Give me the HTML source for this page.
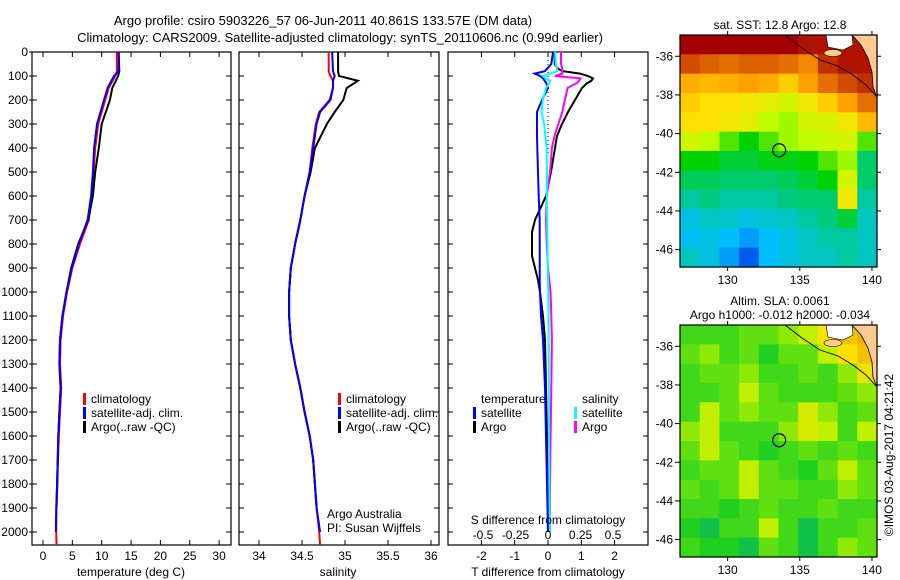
<!DOCTYPE html>
<html><head><meta charset="utf-8"><style>
body{margin:0;background:#fff}
svg{display:block;font-family:"Liberation Sans",sans-serif}
</style></head><body>
<svg id="c" width="900" height="580" xmlns="http://www.w3.org/2000/svg"></svg>
<script>
// ---------- data ----------
const depthT = [0,80,100,150,200,300,400,500,600,700,800,900,1000,1100,1200,1300,1400,1500,1600,1700,1800,1900,2000,2054];
const tempClim = [12.55,12.6,12.3,11.2,10.6,9.4,8.9,8.6,8.3,7.8,6.3,5.0,4.1,3.4,3.0,2.9,3.1,2.9,2.7,2.55,2.45,2.3,2.25,2.3];
const tempSat  = [12.9,12.9,12.1,11.0,10.4,9.2,8.7,8.5,8.2,7.6,6.1,4.9,4.0,3.3,2.9,2.8,3.0,2.8,2.6,2.5,2.4,2.25,2.2,2.2];
const tempArgo = [12.9,13.0,12.8,11.8,11.4,10.0,9.5,8.9,8.5,7.7,6.0,4.8,4.0,3.3,2.9,2.8,3.0,2.8,2.6,2.5,2.4,2.3,2.2,2.2];
const depthS = [0,80,100,120,150,200,250,300,400,500,600,700,800,900,1000,1100,1200,1300,1400,1500,1600,1700,1800,1900,2000,2054];
const salClim = [34.81,34.81,34.83,34.86,34.86,34.82,34.70,34.66,34.62,34.59,34.53,34.48,34.42,34.37,34.35,34.35,34.37,34.42,34.48,34.53,34.59,34.63,34.65,34.67,34.70,34.71];
const salSat  = [34.85,34.86,34.88,34.86,34.86,34.83,34.71,34.67,34.63,34.59,34.53,34.48,34.42,34.37,34.35,34.35,34.37,34.42,34.48,34.53,34.59,34.63,34.65,34.67,34.71,34.71];
const salArgo = [34.92,34.92,34.93,35.15,35.02,34.98,34.88,34.79,34.65,34.60,34.53,34.48,34.42,34.37,34.35,34.35,34.37,34.42,34.48,34.53,34.59,34.63,34.65,34.67,34.70,34.70];
const depthD = [0,50,70,80,90,100,110,120,130,150,200,250,300,350,400,500,600,700,750,800,850,900,950,1000,1100,1200,1400,1600,1800,2000];
const tDiffSat  = [0.15,0.1,-0.03,-0.1,-0.4,-0.24,-0.15,-0.1,-0.05,0,-0.18,-0.33,-0.33,-0.33,-0.32,-0.3,-0.28,-0.25,-0.25,-0.25,-0.25,-0.25,-0.25,-0.24,-0.21,-0.15,-0.09,-0.06,-0.03,0];
const tDiffArgo = [0.2,0.2,0.3,0.45,0.96,1.2,1.35,1.3,1.17,1.02,0.81,0.6,0.42,0.27,0.21,0.09,-0.06,-0.39,-0.48,-0.48,-0.48,-0.39,-0.3,-0.24,-0.15,-0.09,-0.06,-0.03,-0.01,0];
const sDiffSat  = [0.054,0.06,0.07,0.07,0.02,-0.04,-0.02,0.015,0.01,-0.015,-0.04,-0.05,-0.03,-0.02,-0.01,-0.008,-0.01,-0.006,-0.005,-0.004,-0.003,-0.002,0,0.002,0.004,0.005,0.006,0.008,0.01,0.015];
const sDiffArgo = [0.1,0.1,0.11,0.11,0.11,0.054,0.25,0.24,0.22,0.15,0.13,0.11,0.08,0.05,0.03,0.015,-0.01,-0.015,-0.012,-0.01,-0.005,0,0.01,0.02,0.025,0.03,0.025,0.02,0.015,0.015];
const tempTicks = [0,5,10,15,20,25,30];
const salTicks = [34,34.5,35,35.5,36];
const tdTicks = [-2,-1,0,1,2];
const sdTicks = [-0.5,-0.25,0,0.25,0.5];
const depthTicks = [0,100,200,300,400,500,600,700,800,900,1000,1100,1200,1300,1400,1500,1600,1700,1800,1900,2000];
const sstGrid = [
[1,1,1,1,1,1,0.98,0.98,0.98,0.98],
[0.92,0.9,0.88,0.9,0.9,0.88,0.85,0.95,0.98,0.98],
[0.8,0.78,0.8,0.82,0.8,0.75,0.82,0.88,0.92,0.95],
[0.75,0.72,0.72,0.7,0.68,0.65,0.7,0.75,0.82,0.88],
[0.72,0.72,0.7,0.68,0.62,0.6,0.65,0.66,0.7,0.78],
[0.65,0.62,0.55,0.5,0.55,0.6,0.62,0.64,0.65,0.55],
[0.5,0.5,0.45,0.45,0.48,0.48,0.5,0.55,0.6,0.4],
[0.42,0.42,0.4,0.4,0.4,0.42,0.45,0.5,0.65,0.4],
[0.35,0.38,0.35,0.35,0.35,0.38,0.4,0.4,0.7,0.35],
[0.25,0.3,0.28,0.25,0.28,0.3,0.35,0.38,0.45,0.3],
[0.22,0.25,0.2,0.15,0.2,0.25,0.3,0.35,0.35,0.3],
[0.3,0.25,0.15,0.05,0.2,0.25,0.3,0.3,0.35,0.3]];
const slaGrid = [
[0.45,0.45,0.45,0.5,0.5,0.55,0.6,0.75,0.85,0.9],
[0.5,0.55,0.45,0.5,0.4,0.5,0.5,0.6,0.75,0.85],
[0.45,0.5,0.5,0.55,0.45,0.45,0.5,0.45,0.55,0.7],
[0.45,0.45,0.5,0.6,0.5,0.45,0.45,0.45,0.5,0.55],
[0.45,0.6,0.5,0.55,0.5,0.5,0.65,0.55,0.45,0.5],
[0.55,0.6,0.45,0.45,0.45,0.55,0.65,0.6,0.45,0.6],
[0.5,0.6,0.5,0.45,0.4,0.45,0.5,0.45,0.5,0.45],
[0.45,0.5,0.5,0.6,0.5,0.45,0.4,0.5,0.6,0.5],
[0.5,0.45,0.5,0.6,0.5,0.5,0.45,0.45,0.55,0.5],
[0.45,0.45,0.4,0.45,0.5,0.45,0.45,0.5,0.45,0.45],
[0.4,0.35,0.45,0.45,0.6,0.45,0.35,0.45,0.45,0.5],
[0.45,0.4,0.4,0.35,0.5,0.45,0.35,0.45,0.55,0.5]];
const lonTicks = [130,135,140];
const latTicks = [-36,-38,-40,-42,-44,-46];
const argoLon = 133.57, argoLat = -40.861;

// ---------- helpers ----------
const svg = document.getElementById('c');
const NS = 'http://www.w3.org/2000/svg';
function mk(tag, attrs, parent){const e=document.createElementNS(NS,tag);for(const k in attrs)e.setAttribute(k,attrs[k]);(parent||svg).appendChild(e);return e;}
function txt(x,y,s,anchor,size,parent){const t=mk('text',{x:x,y:y,'font-size':size||12,'text-anchor':anchor||'start',fill:'#000'},parent);t.textContent=s;return t;}
const TOP=52, BOT=545;
const yD = d => TOP + d*0.24;

function panel(name,x0,x1,fx,ticks,fmt){
  const g=mk('g',{});
  
  
  mk('rect',{x:x0,y:TOP,width:x1-x0,height:BOT-TOP,fill:'none',stroke:'#000','stroke-width':1.2},g);
  ticks.forEach(v=>{const x=fx(v);
    mk('line',{x1:x,x2:x,y1:BOT,y2:BOT-5,stroke:'#000'},g);
    mk('line',{x1:x,x2:x,y1:TOP,y2:TOP+5,stroke:'#000'},g);
    const t=txt(x,560,fmt?fmt(v):String(v),'middle',12,g);
    
    
  });
  depthTicks.forEach(d=>{const y=yD(d);
    mk('line',{x1:x0,x2:x0+5,y1:y,y2:y,stroke:'#000'},g);
    mk('line',{x1:x1,x2:x1-5,y1:y,y2:y,stroke:'#000'},g);
  });
  return g;
}
function line(g,xs,ds,fx,color,name,w){
  const pts=xs.map((v,i)=>fx(v).toFixed(1)+','+yD(ds[i]).toFixed(1)).join(' ');
  const p=mk('polyline',{points:pts,fill:'none',stroke:color,'stroke-width':w||2},g);
  
  
}
function legendItem(g,x,y,color,label){
  mk('rect',{x:x,y:y-10,width:3,height:12,fill:color},g);
  const t=txt(x+8,y,label,'start',12,g);
  
  
}

// titles
let t=txt(323,25,'Argo profile: csiro 5903226_57 06-Jun-2011 40.861S 133.57E (DM data)','middle',13);

t=txt(340,42,'Climatology: CARS2009. Satellite-adjusted climatology: synTS_20110606.nc (0.99d earlier)','middle',13);


// depth labels
depthTicks.forEach(d=>{const l=txt(28,yD(d)+4,String(d),'end',12);
  
  mk('line',{x1:29,x2:32,y1:yD(d),y2:yD(d),stroke:'#000'});});

// panel 1 temperature
const fT = v => 43 + v*5.87;
const g1=panel('temperature-panel',32,231,fT,tempTicks);
line(g1,tempClim,depthT,fT,'#ff0000','temp-climatology-line');
line(g1,tempArgo,depthT.slice(0,22),fT,'#000','temp-argo-line');
line(g1,tempSat,depthT.slice(0,23),fT,'#0000ff','temp-satellite-line');
legendItem(g1,83,403,'#ff0000','climatology');
legendItem(g1,83,417,'#0000ff','satellite-adj. clim.');
legendItem(g1,83,431,'#000','Argo(..raw -QC)');
t=txt(131,576,'temperature (deg C)','middle',12);

// panel 2 salinity
const fS = v => 259 + (v-34)*86;
const g2=panel('salinity-panel',239,439,fS,salTicks);
line(g2,salClim,depthS,fS,'#ff0000','sal-climatology-line');
line(g2,salArgo,depthS.slice(0,24),fS,'#000','sal-argo-line');
line(g2,salSat,depthS.slice(0,25),fS,'#0000ff','sal-satellite-line');
legendItem(g2,338,403,'#ff0000','climatology');
legendItem(g2,338,417,'#0000ff','satellite-adj. clim.');
legendItem(g2,338,431,'#000','Argo(..raw -QC)');
txt(327,518,'Argo Australia','start',12,g2);
txt(327,532,'PI: Susan Wijffels','start',12,g2);
t=txt(338,576,'salinity','middle',12);

// panel 3 differences
const fTD = v => 548 + v*33.3;
const fSD = v => 548 + v*130;
const g3=panel('difference-panel',448,648,fTD,tdTicks);
mk('line',{x1:548,x2:548,y1:TOP,y2:yD(420),stroke:'#000','stroke-dasharray':'1,3'},g3);
line(g3,tDiffArgo,depthD,fTD,'#000','tdiff-argo-line');
line(g3,sDiffArgo,depthD,fSD,'#ff00ff','sdiff-argo-line');
line(g3,tDiffSat,depthD,fTD,'#0000ff','tdiff-satellite-line');
line(g3,sDiffSat,depthD,fSD,'#00ffff','sdiff-satellite-line');
txt(481,403,'temperature','start',12,g3);
legendItem(g3,473,417,'#0000ff','satellite');
legendItem(g3,473,431,'#000','Argo');
txt(582,403,'salinity','start',12,g3);
legendItem(g3,574,417,'#00ffff','satellite');
legendItem(g3,574,431,'#ff00ff','Argo');
txt(548,524,'S difference from climatology','middle',12,g3);
sdTicks.forEach(v=>{const l=txt(fSD(v),539,String(v),'middle',12,g3);});
t=txt(548,576,'T difference from climatology','middle',12);

// ---------- maps ----------
const MX0=680, MX1=877, LON0=126.7, LON1=140.35;
const fLon = lon => MX0 + (lon-LON0)*(MX1-MX0)/(LON1-LON0);
function lerpC(stops,v){v=Math.max(0,Math.min(1,v));for(let i=1;i<stops.length;i++){if(v<=stops[i][0]){const a=stops[i-1],b=stops[i];const f=(v-a[0])/(b[0]-a[0]);return 'rgb('+[1,2,3].map(k=>Math.round(a[k]+(b[k]-a[k])*f)).join(',')+')';}}const l=stops[stops.length-1];return 'rgb('+l[1]+','+l[2]+','+l[3]+')';}
const sstStops=[[0,0,60,230],[0.2,0,190,255],[0.35,0,200,160],[0.5,0,210,0],[0.62,190,255,0],[0.72,255,225,0],[0.82,255,160,0],[0.9,220,95,0],[1,165,0,0]];
const slaStops=[[0.3,0,176,112],[0.4,32,208,32],[0.5,96,224,16],[0.6,192,240,0],[0.75,255,224,0],[0.9,240,176,0],[1,240,150,0]];
function map(name,top,grid,stops,titleLines){
  const bot=top+232;
  const fLat = lat => top + (-34.9-lat)*(bot-top)/12;
  const g=mk('g',{});
  
  
  const rows=grid.length, cols=grid[0].length, cw=(MX1-MX0)/cols, ch=(bot-top)/rows;
  grid.forEach((row,r)=>row.forEach((v,c)=>{
    const cell=mk('rect',{x:(MX0+c*cw).toFixed(1),y:(top+r*ch).toFixed(1),width:(cw+0.6).toFixed(1),height:(ch+0.6).toFixed(1),fill:lerpC(stops,v)},g);
    
    
  }));
  // land
  mk('polygon',{points:`852,${top} ${MX1},${top} ${MX1},${top+62} 873,${top+52} 872,${top+37} 868,${top+23} 861,${top+10}`,fill:'#ffc990',stroke:'#000','stroke-width':0.8},g);
  mk('polygon',{points:`826,${top} 852,${top} 853,${top+10} 843,${top+15} 828,${top+12}`,fill:'#fff',stroke:'#000','stroke-width':0.6},g);
  mk('ellipse',{cx:833,cy:top+18,rx:9,ry:3.5,fill:'#ffc990',stroke:'#000','stroke-width':0.6},g);
  mk('polyline',{points:`785,${top} 802,${top+13} 820,${top+25} 838,${top+31} 853,${top+40} 866,${top+50} ${MX1},${top+62}`,fill:'none',stroke:'#000','stroke-width':0.9},g);
  mk('rect',{x:MX0,y:top,width:MX1-MX0,height:bot-top,fill:'none',stroke:'#000','stroke-width':1.2},g);
  lonTicks.forEach(l=>{const x=fLon(l);mk('line',{x1:x,x2:x,y1:top,y2:top-4,stroke:'#000'},g);mk('line',{x1:x,x2:x,y1:bot,y2:bot+4,stroke:'#000'},g);
    const lb=txt(x,bot+17,String(l),'middle',12,g);});
  latTicks.forEach(l=>{const y=fLat(l);mk('line',{x1:MX0,x2:MX0-5,y1:y,y2:y,stroke:'#000'},g);mk('line',{x1:MX1,x2:MX1+4,y1:y,y2:y,stroke:'#000'},g);
    const lb=txt(MX0-7,y+4,String(l),'end',12,g);});
  const m=mk('circle',{cx:fLon(argoLon),cy:fLat(argoLat),r:6.5,fill:'none',stroke:'#000','stroke-width':1.2},g);
  
  titleLines.forEach((s,i)=>{const tt=txt(780,top-titleLines.length*14+8+i*14,s,'middle',12,g);});
}
map('sst-map',35,sstGrid,sstStops,['sat. SST: 12.8 Argo: 12.8']);
map('sla-map',325,slaGrid,slaStops,['Altim. SLA: 0.0061','Argo h1000: -0.012 h2000: -0.034']);
t=txt(0,0,'©IMOS 03-Aug-2017 04:21:42','middle',12);
t.setAttribute('transform','translate(893,455) rotate(-90)');

</script>
</body></html>
